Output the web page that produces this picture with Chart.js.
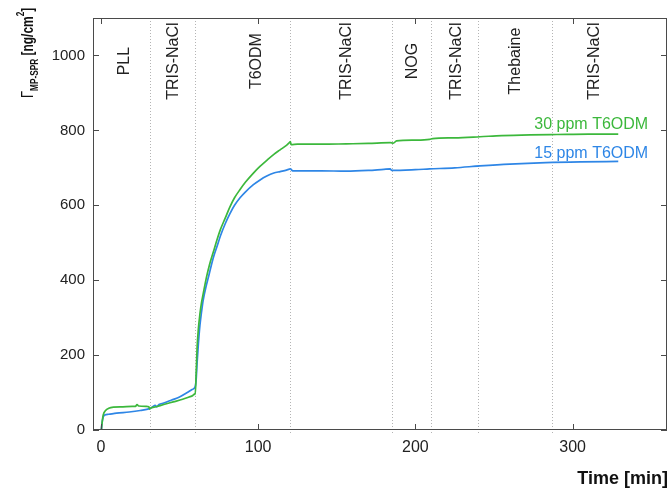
<!DOCTYPE html>
<html><head><meta charset="utf-8">
<script src="https://cdn.jsdelivr.net/npm/chart.js@4"></script>
<style>html,body{margin:0;padding:0;background:#fff;overflow:hidden}canvas{display:block}</style>
</head><body>
<canvas id="c" width="670" height="488"></canvas>
<script>
const xTicks = [0, 100, 200, 300];
const yTicks = [0, 200, 400, 600, 800, 1000];
const phaseBounds = [31, 60, 120, 185, 210, 240, 287];
const phaseNames = ['PLL', 'TRIS-NaCl', 'T6ODM', 'TRIS-NaCl', 'NOG', 'TRIS-NaCl', 'Thebaine', 'TRIS-NaCl'];
const phaseLabelX = [15, 46, 99, 156, 198, 226, 264, 314];
const seriesNames = ['30 ppm T6ODM', '15 ppm T6ODM'];

const greenT = [0.3, 0.8, 1.5, 3, 5, 8, 14, 20, 22, 23, 24, 29, 30.5, 31, 31.5, 35, 40, 46, 52, 56, 58.5, 59.5, 60,
  60.6, 61.2, 62, 63, 64, 65, 67, 69, 71.5, 74, 76, 79, 82, 85, 88.5, 92, 97, 101, 105.5, 110, 114, 118, 120, 120.5, 121,
  125, 140, 156, 170, 184, 186, 188, 200, 209, 211, 225, 241, 255, 273, 290, 310, 329];
const greenV = [0, 20, 40, 52, 58, 61, 62, 63, 63, 68, 64, 63, 62, 56, 58, 62, 68, 75, 82, 88, 92, 96, 95,
  150, 220, 270, 310, 340, 362, 405, 440, 475, 510, 535, 565, 595, 620, 642, 662, 686, 703, 720, 736, 748, 760, 768, 770, 762,
  763, 763, 764, 765, 767, 766, 772, 774, 776, 778, 780, 783, 786, 788, 789, 790, 790];

const blueT = [0.3, 0.8, 1.5, 2.5, 5, 10, 18, 25, 31, 33, 34.5, 35.5, 37, 40, 45, 50, 55, 58, 60,
  60.6, 61.2, 62, 63, 64, 65, 67, 68.5, 71.5, 74, 76, 79, 82, 85, 88.5, 92, 97, 101, 105.5, 110, 114, 118, 120.5, 122,
  125, 140, 156, 170, 180, 184, 185, 200, 209, 225, 241, 260, 283, 305, 329];
const blueV = [0, 20, 35, 40, 42, 45, 48, 52, 57, 62, 66, 62, 68, 72, 80, 88, 100, 108, 116,
  135, 180, 230, 280, 315, 345, 385, 410, 460, 492, 518, 550, 577, 600, 620, 636, 655, 667, 678, 686, 690, 694, 697, 692,
  692, 692, 691, 693, 696, 697, 693, 695, 697, 700, 705, 710, 714, 716, 717];

const GREEN = '#3cb83c', BLUE = '#2e86e6';
const FONT = '"Liberation Sans", Arial, sans-serif';

const deco = {
  id: 'deco',
  beforeDatasetsDraw(chart) {
    const {ctx, chartArea: a, scales: {x}} = chart;
    ctx.save();
    ctx.strokeStyle = '#b4b4b4'; ctx.lineWidth = 1; ctx.setLineDash([1, 2]);
    phaseBounds.forEach(t => {
      const px = Math.round(x.getPixelForValue(t)) + 0.5;
      ctx.beginPath(); ctx.moveTo(px, a.top); ctx.lineTo(px, a.bottom + 3); ctx.stroke();
    });
    ctx.restore();
  },
  afterDatasetsDraw(chart) {
    const {ctx, chartArea: a, scales: {x, y}} = chart;
    ctx.save();
    // frame
    ctx.strokeStyle = '#4a4a4a'; ctx.lineWidth = 1;
    ctx.strokeRect(a.left + 0.5, a.top + 0.5, a.right - a.left - 1, a.bottom - a.top - 1);
    // inward ticks
    ctx.beginPath();
    xTicks.forEach(v => {
      const px = Math.round(x.getPixelForValue(v)) + 0.5;
      ctx.moveTo(px, a.bottom); ctx.lineTo(px, a.bottom - 6);
      ctx.moveTo(px, a.top); ctx.lineTo(px, a.top + 6);
    });
    yTicks.forEach(v => {
      const py = Math.round(y.getPixelForValue(v)) + 0.5;
      ctx.moveTo(a.left, py); ctx.lineTo(a.left + 6, py);
      ctx.moveTo(a.right, py); ctx.lineTo(a.right - 6, py);
    });
    ctx.stroke();
    // phase labels
    ctx.fillStyle = '#222';
    ctx.font = '16px ' + FONT;
    ctx.textAlign = 'center'; ctx.textBaseline = 'middle';
    phaseNames.forEach((n, i) => {
      ctx.save();
      ctx.translate(x.getPixelForValue(phaseLabelX[i]), y.getPixelForValue(985));
      ctx.rotate(-Math.PI / 2);
      ctx.fillText(n, 0, 0);
      ctx.restore();
    });
    // series labels
    ctx.textAlign = 'right'; ctx.textBaseline = 'middle';
    ctx.fillStyle = GREEN;
    ctx.fillText(seriesNames[0], x.getPixelForValue(348), y.getPixelForValue(815));
    ctx.fillStyle = BLUE;
    ctx.fillText(seriesNames[1], x.getPixelForValue(348), y.getPixelForValue(738));
    // x title
    ctx.fillStyle = '#111';
    ctx.font = 'bold 18px ' + FONT;
    ctx.textAlign = 'right'; ctx.textBaseline = 'alphabetic';
    ctx.fillText('Time [min]', 668, 484);
    // y title
    ctx.save();
    ctx.translate(33, 98);
    ctx.rotate(-Math.PI / 2);
    ctx.scale(0.75, 1);
    ctx.textAlign = 'left';
    const segs = [
      {t: 'Γ', f: '17px ' + FONT, dy: 0},
      {t: 'MP-SPR', f: 'bold 11px ' + FONT, dy: 5},
      {t: ' [ng/cm', f: 'bold 16px ' + FONT, dy: 0},
      {t: '2', f: 'bold 11px ' + FONT, dy: -9},
      {t: ']', f: 'bold 16px ' + FONT, dy: 0}
    ];
    let cx = 0;
    segs.forEach(s => { ctx.font = s.f; ctx.fillText(s.t, cx, s.dy); cx += ctx.measureText(s.t).width; });
    ctx.restore();
    ctx.restore();
  }
};

new Chart(document.getElementById('c'), {
  type: 'line',
  data: {
    datasets: [
      {label: seriesNames[0], data: greenT.map((t, i) => ({x: t, y: greenV[i]})), borderColor: GREEN,
        borderWidth: 1.7, pointRadius: 0, cubicInterpolationMode: 'monotone', fill: false},
      {label: seriesNames[1], data: blueT.map((t, i) => ({x: t, y: blueV[i]})), borderColor: BLUE,
        borderWidth: 1.7, pointRadius: 0, cubicInterpolationMode: 'monotone', fill: false}
    ]
  },
  options: {
    responsive: false, animation: false, events: [],
    layout: {padding: {left: 0, top: 18, right: 3, bottom: 0}},
    plugins: {legend: {display: false}, tooltip: {enabled: false}},
    scales: {
      x: {
        type: 'linear', min: -5, max: 360,
        afterBuildTicks: s => { s.ticks = xTicks.map(v => ({value: v})); },
        afterFit: s => { s.height = 58; },
        grid: {display: false, drawTicks: false}, border: {display: false},
        ticks: {font: {family: FONT, size: 16}, color: '#222', padding: 8, maxRotation: 0, callback: v => String(v)}
      },
      y: {
        type: 'linear', min: 0, max: 1100,
        afterBuildTicks: s => { s.ticks = yTicks.map(v => ({value: v})); },
        afterFit: s => { s.width = 93; },
        grid: {display: false, drawTicks: false}, border: {display: false},
        ticks: {font: {family: FONT, size: 15}, color: '#222', padding: 8, callback: v => String(v)}
      }
    }
  },
  plugins: [deco]
});
</script>
</body></html>
